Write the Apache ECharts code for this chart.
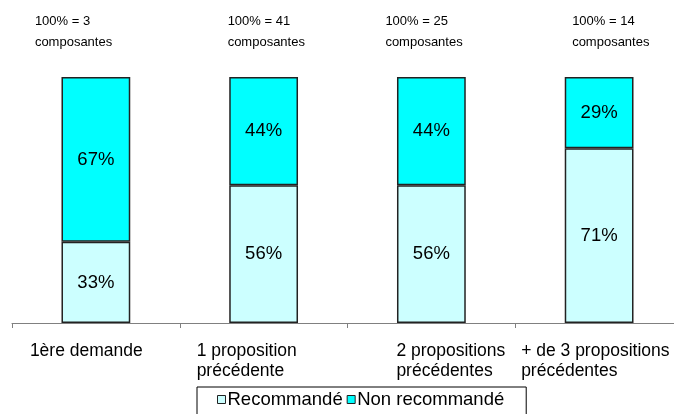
<!DOCTYPE html>
<html>
<head>
<meta charset="utf-8">
<script src="https://cdn.jsdelivr.net/npm/echarts@6/dist/echarts.min.js"></script>
<style>
  html, body { margin: 0; padding: 0; background: #fff; overflow: hidden; }
  #chart { width: 683px; height: 414px; }
</style>
</head>
<body>
<div id="chart"></div>
<script>
// Chart data
const categories = ['1ère demande', '1 proposition\nprécédente', '2 propositions\nprécédentes', '+ de 3 propositions\nprécédentes'];
const totals = [3, 41, 25, 14];
const recommande = [33, 56, 56, 71];
const nonRecommande = [67, 44, 44, 29];
const seriesNames = ['Recommandé', 'Non recommandé'];

const FONT = '"Liberation Sans", Arial, sans-serif';

// Left offsets of the multi-line labels, measured back from each category centre
const bottomShift = [66, 67, 35, 78];
const topShift = [61, 36, 46, 27];

function richFor(prefix, shifts, size, lh) {
  const r = {};
  shifts.forEach((w, i) => {
    r[prefix + i] = { width: w, align: 'left', fontSize: size, lineHeight: lh, fontFamily: FONT, color: '#000' };
  });
  return r;
}

const chart = echarts.init(document.getElementById('chart'), null, { renderer: 'canvas' });

chart.setOption({
  animation: false,
  backgroundColor: '#fff',
  // the last category runs slightly past the right edge of the page
  grid: { left: 12, top: 77, right: 0, bottom: 91 },
  legend: {
    data: seriesNames,
    left: 197,
    top: 387,
    padding: [3, 22, 20, 20],
    itemGap: 4,
    itemWidth: 8,
    itemHeight: 8,
    borderColor: '#000',
    borderWidth: 1,
    borderRadius: 0,
    icon: 'rect',
    itemStyle: { borderColor: '#222', borderWidth: 1 },
    textStyle: { fontFamily: FONT, fontSize: 18.5, color: '#000', padding: [0, 0, 0, -3] }
  },
  xAxis: [
    {
      type: 'category',
      data: categories,
      position: 'bottom',
      axisLine: { lineStyle: { color: '#808080', width: 1 } },
      axisTick: { show: true, length: 5, lineStyle: { color: '#808080' } },
      axisLabel: {
        interval: 0,
        margin: 18,
        align: 'right',
        formatter: (v, i) => v.split('\n').map(s => '{b' + i + '|' + s + '}').join('\n'),
        rich: richFor('b', bottomShift, 17.5, 20)
      }
    },
    {
      type: 'category',
      data: totals.map(t => '100% = ' + t + '\ncomposantes'),
      position: 'top',
      axisLine: { show: false },
      axisTick: { show: false },
      axisLabel: {
        interval: 0,
        margin: 24,
        align: 'right',
        formatter: (v, i) => v.split('\n').map(s => '{t' + i + '|' + s + '}').join('\n'),
        rich: richFor('t', topShift, 13, 21)
      }
    }
  ],
  yAxis: { type: 'value', min: 0, max: 100, show: false },
  series: [
    {
      name: seriesNames[0],
      type: 'bar',
      stack: 'total',
      data: recommande,
      barWidth: '41%',
      itemStyle: { color: '#CCFFFF', borderColor: '#222', borderWidth: 1.5 },
      label: { show: true, position: 'inside', formatter: '{c}%', fontFamily: FONT, fontSize: 18.5, color: '#000' }
    },
    {
      name: seriesNames[1],
      type: 'bar',
      stack: 'total',
      data: nonRecommande,
      barWidth: '41%',
      itemStyle: { color: '#00FFFF', borderColor: '#222', borderWidth: 1.5 },
      label: { show: true, position: 'inside', formatter: '{c}%', fontFamily: FONT, fontSize: 18.5, color: '#000' }
    }
  ]
});
</script>
</body>
</html>
